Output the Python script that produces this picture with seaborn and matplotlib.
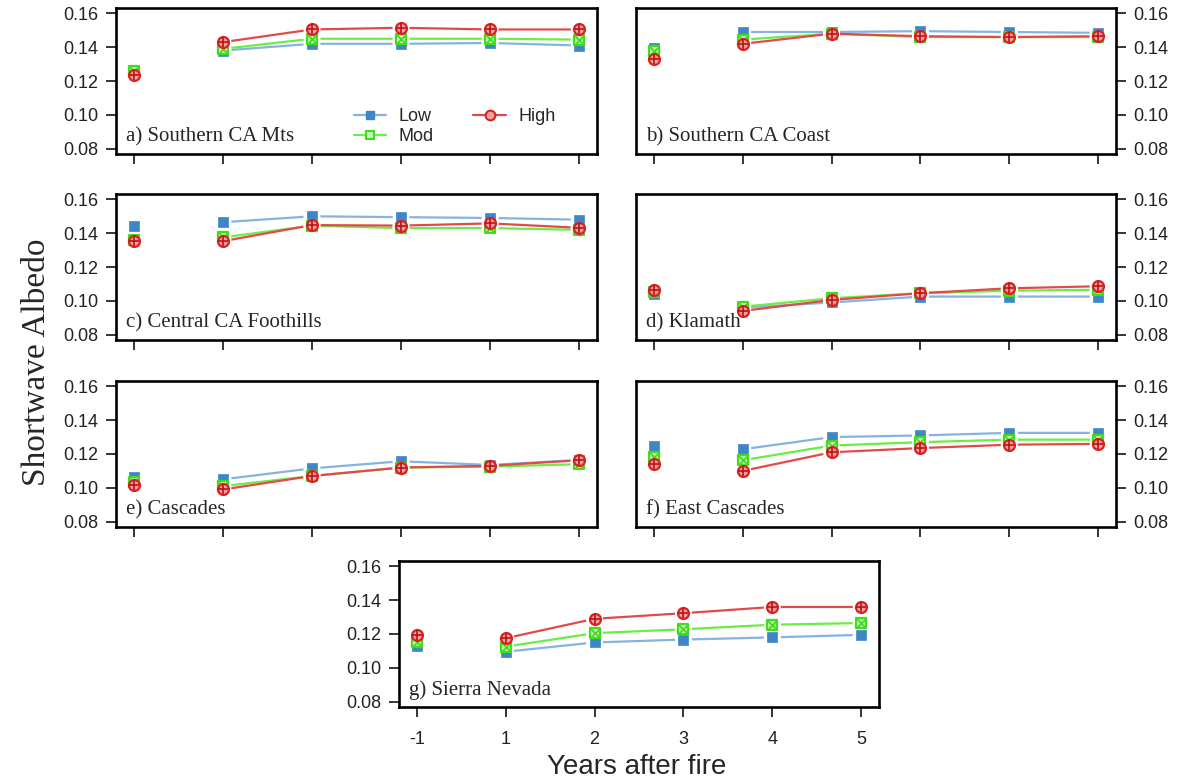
import matplotlib
matplotlib.use("Agg")
import matplotlib.pyplot as plt
from matplotlib.lines import Line2D
import seaborn as sns
import numpy as np
import pandas as pd

# ---------------- data ----------------
years = ["-1", "1", "2", "3", "4", "5"]
panel_titles = ["a) Southern CA Mts", "b) Southern CA Coast", "c) Central CA Foothills",
                "d) Klamath", "e) Cascades", "f) East Cascades", "g) Sierra Nevada"]
series_names = ["Low", "Mod", "High"]

a_low = [0.1255, 0.138, 0.142, 0.142, 0.1425, 0.141]
a_mod = [0.126, 0.139, 0.145, 0.145, 0.145, 0.1445]
a_high = [0.1235, 0.143, 0.1505, 0.1515, 0.1505, 0.1505]

b_low = [0.1395, 0.149, 0.149, 0.1495, 0.149, 0.1485]
b_mod = [0.1375, 0.1445, 0.148, 0.146, 0.146, 0.146]
b_high = [0.133, 0.142, 0.148, 0.1465, 0.146, 0.1465]

c_low = [0.1445, 0.1465, 0.150, 0.1495, 0.149, 0.148]
c_mod = [0.1357, 0.1375, 0.1445, 0.143, 0.143, 0.142]
c_high = [0.1355, 0.1353, 0.1448, 0.1445, 0.1458, 0.1432]

d_low = [0.104, 0.096, 0.099, 0.1025, 0.1025, 0.1025]
d_mod = [0.105, 0.0965, 0.1015, 0.1045, 0.106, 0.1065]
d_high = [0.1062, 0.094, 0.1005, 0.1045, 0.1074, 0.1086]

e_low = [0.1065, 0.105, 0.1115, 0.1157, 0.1135, 0.1165]
e_mod = [0.1035, 0.101, 0.107, 0.112, 0.1125, 0.114]
e_high = [0.1015, 0.099, 0.107, 0.112, 0.113, 0.1163]

f_low = [0.1245, 0.1228, 0.130, 0.131, 0.1325, 0.1325]
f_mod = [0.1185, 0.1163, 0.125, 0.127, 0.1285, 0.1285]
f_high = [0.1143, 0.110, 0.121, 0.1235, 0.1255, 0.126]

g_low = [0.113, 0.1095, 0.115, 0.1167, 0.118, 0.1195]
g_mod = [0.1155, 0.1125, 0.1205, 0.1228, 0.1255, 0.1265]
g_high = [0.1195, 0.1175, 0.129, 0.1323, 0.136, 0.136]

panels = [(a_low, a_mod, a_high), (b_low, b_mod, b_high), (c_low, c_mod, c_high),
          (d_low, d_mod, d_high), (e_low, e_mod, e_high), (f_low, f_mod, f_high),
          (g_low, g_mod, g_high)]

y_ticks = [0.08, 0.10, 0.12, 0.14, 0.16]

# ---------------- style ----------------
sns.set_style("ticks")
plt.rcParams['font.family'] = ['Liberation Sans', 'DejaVu Sans']

line_colors = {"Low": "#86b3e0", "Mod": "#6aee44", "High": "#e24a4a"}
mark_colors = {"Low": "#3f86c8", "Mod": "#40dd1c", "High": "#dc2020"}
tick_col = "#222222"

W, H = 1179, 782
fig = plt.figure(figsize=(W / 100, H / 100), dpi=100)

# pixel boxes: (left, top, right, bottom)
boxes = [(116, 8, 597, 154), (636, 8, 1116, 154),
         (116, 194, 597, 340), (636, 194, 1116, 340),
         (116, 381, 597, 527), (636, 381, 1116, 527),
         (399, 561, 879, 707)]

pos = np.arange(len(years))

for i, (box, vals, title) in enumerate(zip(boxes, panels, panel_titles)):
    l, t, r, b = box
    ax = fig.add_axes([l / W, 1 - b / H, (r - l) / W, (b - t) / H])
    df = pd.DataFrame({
        "pos": np.tile(pos, 3),
        "val": np.concatenate(vals),
        "sev": np.repeat(series_names, len(years)),
    })
    # lines (years 1..5 only)
    for s in series_names:
        sub = df[(df.sev == s) & (df.pos > 0)]
        sns.lineplot(data=sub, x="pos", y="val", color=line_colors[s], lw=1.6,
                     ax=ax, legend=False, zorder=2)
    # white halos to give gaps like R type="b"
    sns.scatterplot(data=df, x="pos", y="val", color="white", s=150, marker="o",
                    edgecolor="none", ax=ax, legend=False, zorder=3)
    # markers
    for s in series_names:
        sub = df[df.sev == s]
        if s == "Low":
            sns.scatterplot(data=sub, x="pos", y="val", marker="s", s=52,
                            color=mark_colors[s], edgecolor=mark_colors[s],
                            linewidth=0.5, ax=ax, legend=False, zorder=4)
        elif s == "Mod":
            sns.scatterplot(data=sub, x="pos", y="val", marker="s", s=52,
                            facecolor="#c8f5b8", edgecolor=mark_colors[s],
                            linewidth=1.6, ax=ax, legend=False, zorder=5)
            sns.scatterplot(data=sub, x="pos", y="val", marker="x", s=40,
                            color=mark_colors[s], linewidth=1.3,
                            ax=ax, legend=False, zorder=6)
        else:
            sns.scatterplot(data=sub, x="pos", y="val", marker="o", s=62,
                            facecolor="#f2a0a0", edgecolor=mark_colors[s],
                            linewidth=1.6, ax=ax, legend=False, zorder=7)
            sns.scatterplot(data=sub, x="pos", y="val", marker="+", s=48,
                            color="#b81414", linewidth=1.2,
                            ax=ax, legend=False, zorder=8)

    ax.set_xlim(-0.2, 5.2)
    ax.set_ylim(0.0768, 0.1632)
    ax.set_xticks(pos)
    ax.set_yticks(y_ticks)
    ax.set_yticklabels([f"{v:.2f}" for v in y_ticks])
    ax.set_xlabel("")
    ax.set_ylabel("")
    if i == 6:
        ax.set_xticklabels(years)
    else:
        ax.set_xticklabels([])
    if i in (1, 3, 5):
        ax.yaxis.tick_right()
    for sp in ax.spines.values():
        sp.set_visible(True)
        sp.set_linewidth(1.9)
        sp.set_color("black")
    ax.tick_params(axis="both", direction="out", length=7.5, width=1.1,
                   labelsize=13, color="black", labelcolor=tick_col, pad=5)
    ax.tick_params(axis="x", pad=10)
    ax.text(0.021, 0.085, title, transform=ax.transAxes, ha="left", va="baseline",
            fontsize=15, family=["Liberation Serif", "DejaVu Serif"])

    if i == 0:
        handles = []
        for s in series_names:
            if s == "Low":
                h = Line2D([], [], color=line_colors[s], lw=1.6, marker="s",
                           markersize=6, markerfacecolor=mark_colors[s],
                           markeredgecolor=mark_colors[s])
            elif s == "Mod":
                h = Line2D([], [], color=line_colors[s], lw=1.6, marker="s",
                           markersize=6, markerfacecolor="#c8f5b8",
                           markeredgecolor=mark_colors[s], markeredgewidth=1.5)
            else:
                h = Line2D([], [], color=line_colors[s], lw=1.6, marker="o",
                           markersize=7, markerfacecolor="#f2a0a0",
                           markeredgecolor=mark_colors[s], markeredgewidth=1.5)
            handles.append(h)
        ax.legend(handles, series_names, loc="lower left", bbox_to_anchor=(0.46, -0.05),
                  ncol=2, frameon=False, fontsize=13, handlelength=1.8,
                  labelspacing=0.15, columnspacing=2.2, handletextpad=0.7)

fig.text(37 / W, 1 - 362 / H, "Shortwave Albedo", rotation=90, ha="center", va="center",
         fontsize=24, family=["Liberation Serif", "DejaVu Serif"])
fig.text(637 / W, 1 - 767 / H, "Years after fire", ha="center", va="center", fontsize=20)

fig.savefig("out.png", dpi=100, facecolor="white")
